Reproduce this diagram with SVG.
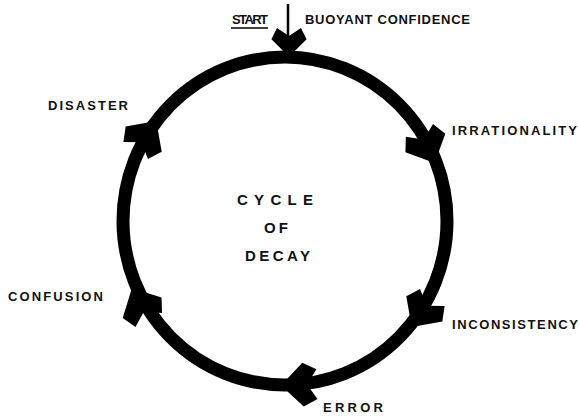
<svg xmlns="http://www.w3.org/2000/svg" width="579" height="416" viewBox="0 0 579 416">
<style>
.lbl{font-family:"Liberation Sans",Arial,sans-serif;font-size:13px;font-weight:bold;fill:#111}
.ctr{font-family:"Liberation Sans",Arial,sans-serif;font-size:15px;font-weight:bold;fill:#111}
.ring{fill:none;stroke:#000;stroke-width:13}
.head{fill:#000}
</style>
<defs>
<polygon id="barb" points="11,0 -11,-22 -25,-15 -15,0 -25,15 -11,22"/>
</defs>
<rect width="579" height="416" fill="#fff"/>
<g id="connectors">
<ellipse class="ring" cx="285" cy="221" rx="162" ry="164"/>
<use href="#barb" class="head" transform="translate(430,153) rotate(65)"/>
<use href="#barb" class="head" transform="translate(418,318) rotate(125)"/>
<use href="#barb" class="head" transform="translate(292,385) rotate(178)"/>
<use href="#barb" class="head" transform="translate(137,298) rotate(242)"/>
<use href="#barb" class="head" transform="translate(150,130) rotate(305)"/>
<g id="start-arrow">
<line x1="288" y1="4" x2="288" y2="50" stroke="#000" stroke-width="2.5"/>
<use href="#barb" class="head" transform="translate(289,48) rotate(90) scale(0.8)"/>
</g>
</g>
<g id="start"><text class="lbl" x="232" y="24" textLength="36">START</text><line x1="231" y1="28" x2="268" y2="28" stroke="#000" stroke-width="1.5"/></g>
<g id="buoyant"><text class="lbl" x="305" y="24" textLength="165">BUOYANT CONFIDENCE</text></g>
<g id="irrationality"><text class="lbl" x="452" y="135" textLength="125">IRRATIONALITY</text></g>
<g id="inconsistency"><text class="lbl" x="452" y="329" textLength="126">INCONSISTENCY</text></g>
<g id="error"><text class="lbl" x="323" y="412" textLength="60">ERROR</text></g>
<g id="confusion"><text class="lbl" x="8" y="301" textLength="95">CONFUSION</text></g>
<g id="disaster"><text class="lbl" x="48" y="110" textLength="80">DISASTER</text></g>
<g id="center"><text class="ctr" x="237" y="205" textLength="76">CYCLE</text><text class="ctr" x="264" y="233" textLength="24">OF</text><text class="ctr" x="245" y="261" textLength="65">DECAY</text></g>
</svg>
